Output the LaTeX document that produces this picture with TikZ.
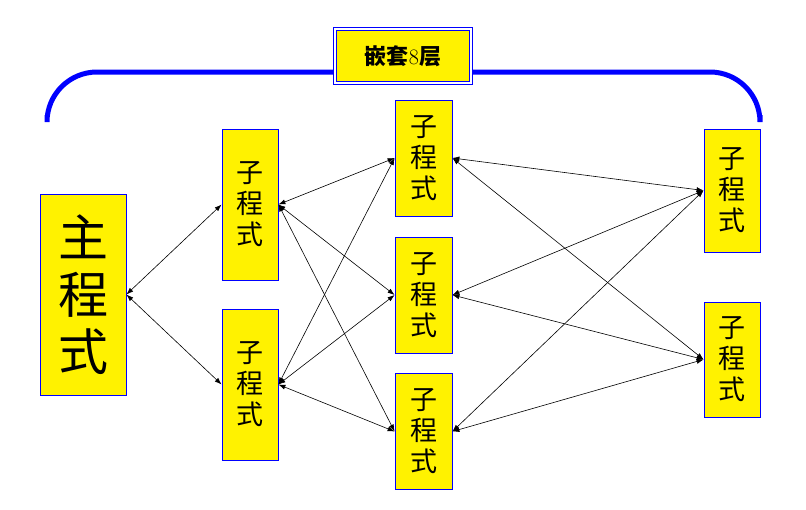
\documentclass[tikz,border=0pt]{standalone}
\usepackage{fontspec}
\newfontfamily\cjk{Noto Sans CJK SC}
\usetikzlibrary{arrows.meta}

\begin{document}
\begin{tikzpicture}[x=1pt, y=-1pt, >={Latex[length=7pt,width=5pt]}]
        \tikzstyle{every node}=[inner sep=0pt, align=center]
        \tikzstyle{prog}=[draw=blue, line width=0.8pt, fill=yellow, font=\cjk\fontsize{27}{31}\selectfont]
        \tikzstyle{link}=[<->, line width=0.6pt]
        \useasboundingbox (0,0) rectangle (806,509);
        % brace over the nesting
        \draw [blue, line width=5pt, rounded corners=50pt] (47,115) -- (47,72) -- (760,72) -- (760,115);
        \node [draw=blue, line width=1.2pt, double=white, double distance=2pt, fill=yellow, minimum width=136pt, minimum height=54pt, font=\fontsize{22}{24}\selectfont] (title) at (403,56) {{\cjk\bfseries 嵌套}8{\cjk\bfseries 层}};
        \node [prog, minimum width=86pt, minimum height=201pt, font=\cjk\fontsize{50}{57}\selectfont] (main) at (83,294.5) {主\\程\\式};
        \node [prog, minimum width=56pt, minimum height=151pt] (a1) at (250,204.5) {子\\程\\式};
        \node [prog, minimum width=56pt, minimum height=151pt] (a2) at (250,384.5) {子\\程\\式};
        \node [prog, minimum width=57pt, minimum height=116pt] (b1) at (423.5,158) {子\\程\\式};
        \node [prog, minimum width=57pt, minimum height=116pt] (b2) at (423.5,295) {子\\程\\式};
        \node [prog, minimum width=57pt, minimum height=116pt] (b3) at (423.5,431.5) {子\\程\\式};
        \node [prog, minimum width=56pt, minimum height=123pt] (c1) at (732,190.5) {子\\程\\式};
        \node [prog, minimum width=56pt, minimum height=115pt] (c2) at (732,359.5) {子\\程\\式};
        \draw [link] (main.east) -- (a1.west);
        \draw [link] (main.east) -- (a2.west);
        \foreach \s in {a1,a2}
            \foreach \t in {b1,b2,b3}
                \draw [link] (\s.east) -- (\t.west);
        \foreach \s in {b1,b2,b3}
            \foreach \t in {c1,c2}
                \draw [link] (\s.east) -- (\t.west);
    \end{tikzpicture}
\end{document}
